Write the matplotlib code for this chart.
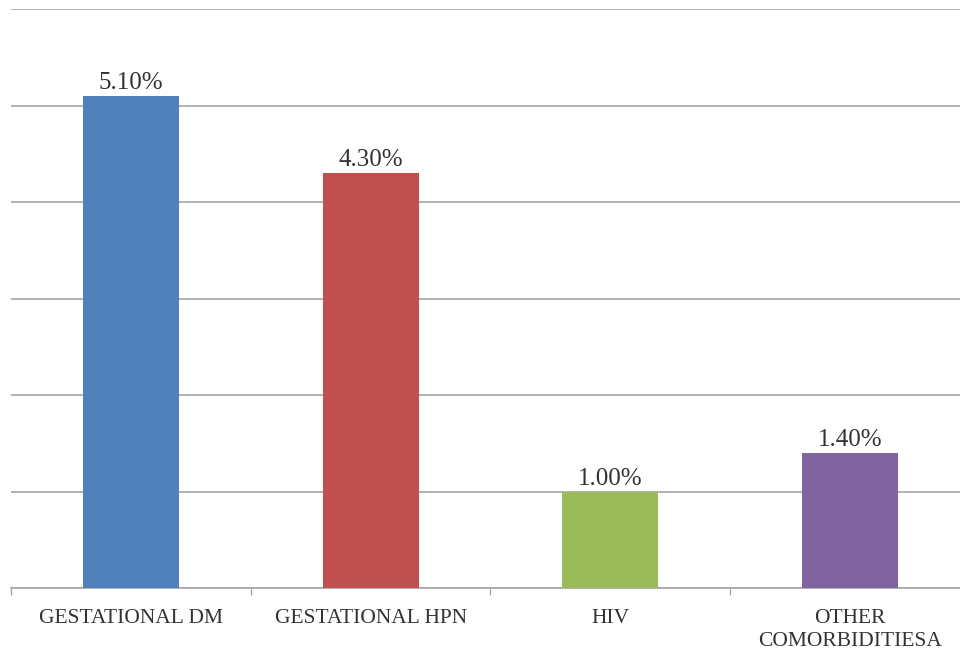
import matplotlib
matplotlib.use("Agg")
import matplotlib.pyplot as plt

categories = ["GESTATIONAL DM", "GESTATIONAL HPN", "HIV", "OTHER\nCOMORBIDITIESA"]
values = [5.10, 4.30, 1.00, 1.40]
colors = ["#4F81BD", "#C0504D", "#9BBB59", "#8064A2"]

plt.rcParams['font.family'] = ['Liberation Serif', 'DejaVu Serif']

fig = plt.figure(figsize=(9.6, 6.5), dpi=100)
ax = fig.add_axes([11 / 960, 62 / 650, 959 / 960, 579 / 650])

x = list(range(len(categories)))
ax.bar(x, values, width=0.4, color=colors, zorder=3)

for xi, v in zip(x, values):
    ax.text(xi, v + 0.02, f"{v:.2f}%", ha="center", va="bottom",
            fontsize=18, color="#333333")

ax.set_xlim(-0.5, 3.5)
ax.set_ylim(0, 6)
ax.set_yticks(range(0, 7))
ax.yaxis.grid(True, color="#a6a6a6", linewidth=1.2, zorder=0)
ax.tick_params(axis="y", left=False, labelleft=False)

# category boundaries carry the small tick marks, labels sit at centres
ax.set_xticks([-0.5, 0.5, 1.5, 2.5, 3.5])
ax.set_xticklabels([])
ax.tick_params(axis="x", length=5, color="#a6a6a6", width=1)
for xi, c in zip(x, categories):
    ax.text(xi, -0.22, c, ha="center", va="top", fontsize=15.5,
            color="#333333", linespacing=1.3,
            transform=ax.transData)

for s in ["top", "right", "left"]:
    ax.spines[s].set_visible(False)
ax.spines["bottom"].set_color("#a6a6a6")
ax.spines["bottom"].set_linewidth(1.2)

fig.savefig("out.png", dpi=100)
